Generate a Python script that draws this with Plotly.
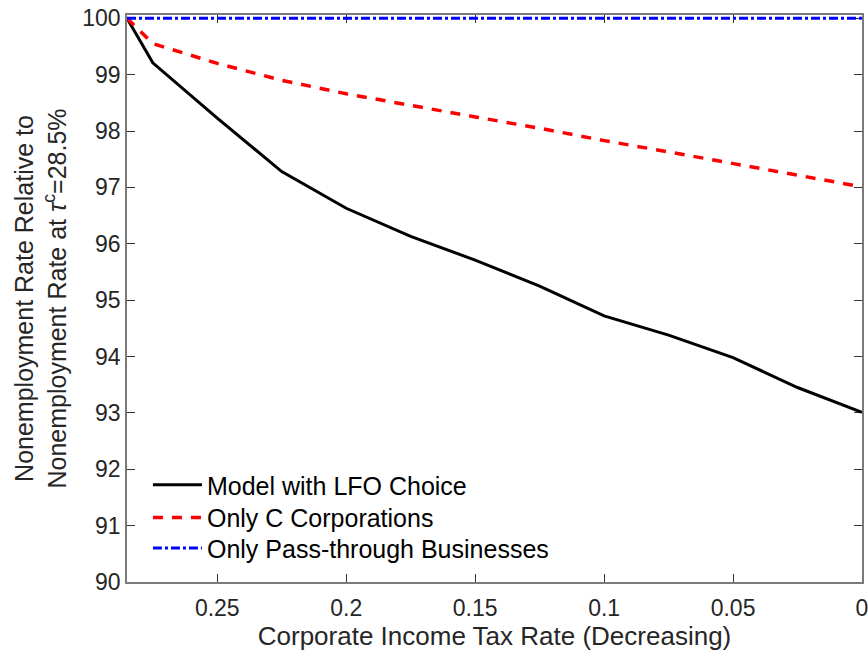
import plotly.graph_objects as go

tax_rate = [0.285, 0.275, 0.25, 0.225, 0.2, 0.175, 0.15, 0.125, 0.1, 0.075, 0.05, 0.025, 0.0]
model_lfo = [100.0, 99.21, 98.23, 97.28, 96.63, 96.13, 95.71, 95.25, 94.72, 94.38, 93.98, 93.45, 93.01]
only_c = [100.0, 99.55, 99.2, 98.9, 98.66, 98.45, 98.25, 98.05, 97.83, 97.63, 97.42, 97.22, 97.01]
only_pass = [100.0] * 13

x_ticks = [0.25, 0.2, 0.15, 0.1, 0.05, 0.0]
x_tick_labels = ["0.25", "0.2", "0.15", "0.1", "0.05", "0"]
y_ticks = [90, 91, 92, 93, 94, 95, 96, 97, 98, 99, 100]

FONT = "Liberation Sans, Arial, Helvetica, sans-serif"

fig = go.Figure()
fig.add_trace(go.Scatter(x=tax_rate, y=model_lfo, mode="lines", name="Model with LFO Choice",
                         line=dict(color="black", width=3), legend="legend"))
fig.add_trace(go.Scatter(x=tax_rate, y=only_c, mode="lines", name="Only C Corporations",
                         line=dict(color="#ff0000", width=3.5, dash="10px,9px"), legend="legend2"))
fig.add_trace(go.Scatter(x=tax_rate, y=only_pass, mode="lines", name="Only Pass-through Businesses",
                         line=dict(color="#0000ff", width=3, dash="9px,3px,3px,3px"), legend="legend3"))

axis_common = dict(
    showgrid=False, zeroline=False, showline=True, linecolor="#7a7a7a", linewidth=1.5,
    mirror="ticks", ticks="inside", ticklen=8, tickwidth=1, tickcolor="#333333",
    tickfont=dict(family=FONT, size=23, color="#262626"), automargin=False,
    layer="below traces", ticklabeloverflow="allow",
)

legend_common = dict(xanchor="left", yanchor="middle", bgcolor="rgba(0,0,0,0)",
                     font=dict(family=FONT, size=25, color="black"), itemwidth=49)

fig.update_layout(
    width=868, height=651,
    margin=dict(l=127, r=6, t=15, b=69),
    paper_bgcolor="white", plot_bgcolor="white",
    font=dict(family=FONT, color="#262626"),
    xaxis=dict(range=[0.285, 0], tickvals=x_ticks, ticktext=x_tick_labels,
               ticklabelstandoff=5,
               title=dict(text="Corporate Income Tax Rate (Decreasing)",
                          font=dict(size=26, color="#262626"), standoff=6),
               **axis_common),
    yaxis=dict(range=[90, 100.058], tickvals=y_ticks,
               title=dict(text="Nonemployment Rate Relative to<br>Nonemployment Rate at <i>τ</i><sup>c</sup>=28.5%",
                          font=dict(size=25, color="#262626"), standoff=9),
               **axis_common),
    legend=dict(x=0.0285, y=0.171, **legend_common),
    legend2=dict(x=0.0285, y=0.1134, **legend_common),
    legend3=dict(x=0.0285, y=0.0594, **legend_common),
    showlegend=True,
)

fig.write_html("out.html", config={"displayModeBar": False},
               post_script="document.body.style.margin='0px';")
